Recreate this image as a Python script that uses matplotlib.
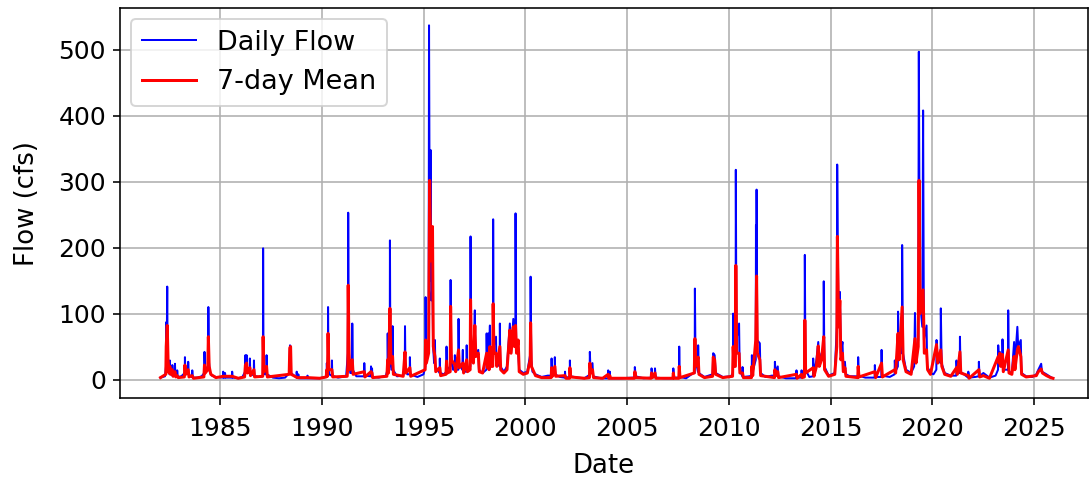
import matplotlib
matplotlib.use("Agg")
import matplotlib.pyplot as plt

# (decimal year, cfs) pairs
DAILY_FLOW = [
    (1982.08,3),(1982.30,5),(1982.35,20),(1982.36,87),(1982.38,30),(1982.41,141),(1982.43,25),(1982.47,12),(1982.53,8),(1982.54,29),(1982.56,10),(1982.65,6),(1982.66,22),(1982.68,8),(1982.78,6),(1982.79,24),(1982.81,6),(1982.89,4),(1982.90,14),(1982.92,4),
    (1983.10,5),(1983.27,10),(1983.28,34),(1983.30,12),(1983.43,8),(1983.44,27),(1983.46,8),(1983.63,4),(1983.64,14),(1983.66,3),(1983.90,3),
    (1984.10,5),(1984.23,10),(1984.24,42),(1984.26,15),(1984.42,20),(1984.43,110),(1984.45,30),(1984.50,12),(1984.60,6),(1984.80,4),
    (1985.15,3),(1985.16,12),(1985.18,3),(1985.24,3),(1985.25,10),(1985.27,3),(1985.59,3),(1985.60,12),(1985.62,3),(1985.90,2),
    (1986.10,4),(1986.24,12),(1986.25,37),(1986.27,15),(1986.30,12),(1986.31,37),(1986.33,12),(1986.46,10),(1986.47,32),(1986.49,10),(1986.66,6),(1986.67,29),(1986.69,6),(1986.90,4),
    (1987.11,5),(1987.12,199),(1987.14,20),(1987.20,8),(1987.28,8),(1987.29,37),(1987.31,8),(1987.60,3),(1987.90,2),
    (1988.20,3),(1988.41,10),(1988.42,25),(1988.44,52),(1988.47,50),(1988.49,10),(1988.76,3),(1988.77,12),(1988.79,3),(1988.84,3),(1988.85,8),(1988.87,2),
    (1989.29,2),(1989.30,6),(1989.32,2),(1989.90,2),
    (1990.20,4),(1990.24,6),(1990.25,25),(1990.27,8),(1990.30,10),(1990.31,110),(1990.33,25),(1990.36,8),(1990.49,6),(1990.50,29),(1990.52,6),(1990.80,3),
    (1991.20,5),(1991.28,40),(1991.30,253),(1991.32,120),(1991.35,30),(1991.40,10),(1991.49,10),(1991.50,85),(1991.52,15),(1991.70,5),
    (1992.08,5),(1992.09,25),(1992.11,6),(1992.41,5),(1992.42,20),(1992.44,5),(1992.46,5),(1992.47,17),(1992.49,4),(1992.80,3),
    (1993.15,6),(1993.23,15),(1993.24,70),(1993.26,20),(1993.34,20),(1993.35,211),(1993.37,40),(1993.42,15),(1993.47,15),(1993.48,81),(1993.50,15),(1993.70,5),
    (1994.00,6),(1994.08,15),(1994.09,81),(1994.11,20),(1994.20,8),(1994.32,8),(1994.33,34),(1994.35,8),(1994.70,4),
    (1995.00,8),(1995.09,20),(1995.10,125),(1995.12,40),(1995.25,60),(1995.27,537),(1995.31,150),(1995.35,348),(1995.38,120),(1995.44,146),(1995.47,50),(1995.52,25),(1995.56,60),(1995.58,20),(1995.79,10),(1995.80,32),(1995.82,10),
    (1996.00,8),(1996.12,12),(1996.13,50),(1996.15,15),(1996.32,20),(1996.33,151),(1996.35,40),(1996.45,15),(1996.53,15),(1996.54,37),(1996.56,15),(1996.71,15),(1996.72,92),(1996.74,25),(1996.90,15),(1996.93,45),(1996.95,12),
    (1997.11,12),(1997.12,52),(1997.14,15),(1997.30,20),(1997.31,217),(1997.33,60),(1997.45,30),(1997.52,105),(1997.55,40),(1997.69,45),(1997.72,15),(1997.90,10),
    (1998.09,15),(1998.10,70),(1998.12,25),(1998.18,70),(1998.20,20),(1998.26,82),(1998.28,30),(1998.41,30),(1998.42,243),(1998.44,50),(1998.56,65),(1998.58,25),(1998.74,20),(1998.75,85),(1998.77,20),(1998.95,12),
    (1999.10,20),(1999.24,85),(1999.30,40),(1999.41,92),(1999.45,60),(1999.51,50),(1999.52,252),(1999.55,50),(1999.65,40),(1999.70,15),(1999.90,10),
    (2000.10,12),(2000.25,40),(2000.26,156),(2000.29,30),(2000.35,12),(2000.50,8),(2000.80,4),
    (2001.10,6),(2001.28,6),(2001.29,32),(2001.31,8),(2001.44,8),(2001.45,34),(2001.47,8),(2001.70,4),(2001.94,3),(2001.95,12),(2001.97,3),
    (2002.18,4),(2002.19,29),(2002.21,5),(2002.60,3),(2002.90,2),
    (2003.10,6),(2003.16,8),(2003.17,42),(2003.20,15),(2003.30,25),(2003.33,5),(2003.70,2),
    (2004.06,2),(2004.07,14),(2004.09,2),(2004.14,2),(2004.15,12),(2004.17,2),(2004.70,2),
    (2005.30,3),(2005.37,4),(2005.38,19),(2005.42,5),(2005.80,2),
    (2006.19,3),(2006.20,17),(2006.25,5),(2006.36,5),(2006.37,17),(2006.40,3),(2006.80,2),
    (2007.26,2),(2007.27,17),(2007.30,3),(2007.55,3),(2007.56,50),(2007.58,4),(2007.90,2),
    (2008.25,10),(2008.32,10),(2008.33,138),(2008.36,30),(2008.48,12),(2008.49,52),(2008.52,10),(2008.80,4),
    (2009.20,8),(2009.23,40),(2009.30,37),(2009.35,10),(2009.70,4),
    (2010.10,5),(2010.20,10),(2010.21,100),(2010.24,30),(2010.33,40),(2010.34,318),(2010.37,60),(2010.50,85),(2010.53,15),(2010.66,5),(2010.67,19),(2010.70,4),
    (2011.00,5),(2011.12,6),(2011.13,37),(2011.15,10),(2011.32,30),(2011.33,234),(2011.35,60),(2011.36,288),(2011.39,60),(2011.52,55),(2011.55,10),(2011.80,4),
    (2012.10,6),(2012.25,6),(2012.26,27),(2012.30,10),(2012.40,20),(2012.43,5),(2012.80,2),
    (2013.31,2),(2013.32,14),(2013.34,3),(2013.56,3),(2013.57,14),(2013.60,4),(2013.72,8),(2013.73,189),(2013.76,15),(2013.95,4),
    (2014.13,5),(2014.14,32),(2014.17,8),(2014.30,30),(2014.39,57),(2014.43,25),(2014.55,40),(2014.65,30),(2014.66,149),(2014.69,20),(2014.90,6),
    (2015.20,10),(2015.30,80),(2015.32,326),(2015.38,90),(2015.45,133),(2015.50,40),(2015.58,57),(2015.62,15),(2015.70,27),(2015.74,8),(2015.95,5),
    (2016.34,5),(2016.35,34),(2016.38,6),(2016.70,3),
    (2017.16,3),(2017.17,22),(2017.20,4),(2017.49,4),(2017.50,45),(2017.52,6),(2017.90,4),
    (2018.14,8),(2018.15,29),(2018.18,12),(2018.30,20),(2018.31,103),(2018.34,40),(2018.50,40),(2018.51,204),(2018.55,40),(2018.70,15),(2018.95,10),
    (2019.10,20),(2019.14,101),(2019.18,30),(2019.30,60),(2019.33,497),(2019.38,120),(2019.50,80),(2019.54,408),(2019.58,60),(2019.71,82),(2019.74,20),(2019.90,10),
    (2020.05,8),(2020.19,15),(2020.20,60),(2020.25,30),(2020.40,25),(2020.41,108),(2020.45,25),(2020.60,10),(2020.90,6),
    (2021.17,6),(2021.18,29),(2021.21,10),(2021.34,10),(2021.35,65),(2021.38,12),(2021.75,3),(2021.76,12),(2021.80,3),
    (2022.10,4),(2022.27,5),(2022.28,27),(2022.31,5),(2022.50,10),(2022.80,3),
    (2023.10,6),(2023.22,15),(2023.23,52),(2023.26,30),(2023.31,42),(2023.34,25),(2023.43,20),(2023.44,61),(2023.47,15),(2023.71,15),(2023.72,105),(2023.75,12),(2023.90,10),
    (2024.01,57),(2024.04,20),(2024.17,80),(2024.21,50),(2024.34,60),(2024.37,10),(2024.60,5),(2024.90,4),
    (2025.10,8),(2025.20,15),(2025.34,24),(2025.38,12),(2025.60,8),(2025.80,4),(2025.92,2),
]

MEAN_7DAY = [
    (1982.08,3),(1982.34,8),(1982.36,50),(1982.41,82),(1982.45,30),(1982.50,10),(1982.54,20),(1982.58,8),(1982.66,15),(1982.70,5),(1982.79,12),(1982.83,4),(1982.90,6),(1982.95,3),
    (1983.25,4),(1983.28,22),(1983.32,8),(1983.44,15),(1983.48,4),(1983.64,6),(1983.70,2),
    (1984.21,4),(1984.24,22),(1984.28,10),(1984.40,15),(1984.43,65),(1984.47,20),(1984.55,8),(1984.80,3),
    (1985.16,5),(1985.25,5),(1985.60,5),(1985.90,2),
    (1986.21,4),(1986.25,22),(1986.31,25),(1986.35,10),(1986.47,18),(1986.50,6),(1986.67,15),(1986.70,4),
    (1987.10,5),(1987.12,65),(1987.16,12),(1987.29,20),(1987.33,4),
    (1988.40,8),(1988.43,48),(1988.47,50),(1988.50,8),(1988.80,3),
    (1989.30,3),(1989.90,2),
    (1990.22,4),(1990.25,15),(1990.28,5),(1990.31,70),(1990.35,15),(1990.50,15),(1990.54,4),
    (1991.25,5),(1991.28,20),(1991.30,143),(1991.34,40),(1991.38,15),(1991.50,30),(1991.54,8),
    (1992.09,12),(1992.12,4),(1992.42,12),(1992.47,10),(1992.50,3),
    (1993.20,5),(1993.24,30),(1993.28,10),(1993.35,108),(1993.40,25),(1993.48,35),(1993.52,8),
    (1994.00,5),(1994.09,42),(1994.13,10),(1994.33,18),(1994.37,5),
    (1995.08,15),(1995.10,60),(1995.14,25),(1995.25,40),(1995.30,302),(1995.36,180),(1995.44,232),(1995.48,50),(1995.56,35),(1995.60,12),(1995.80,18),(1995.84,6),
    (1996.10,8),(1996.13,28),(1996.17,10),(1996.31,12),(1996.33,111),(1996.37,30),(1996.54,22),(1996.58,12),(1996.72,45),(1996.76,18),(1996.93,25),(1996.97,10),
    (1997.12,30),(1997.16,12),(1997.29,15),(1997.31,121),(1997.35,45),(1997.45,25),(1997.52,82),(1997.57,35),(1997.69,40),(1997.74,12),(1997.90,10),
    (1998.10,40),(1998.14,18),(1998.18,40),(1998.22,15),(1998.26,50),(1998.30,20),(1998.40,20),(1998.42,115),(1998.46,40),(1998.56,40),(1998.60,20),(1998.75,50),(1998.79,15),(1998.95,10),
    (1999.10,15),(1999.24,75),(1999.30,40),(1999.41,80),(1999.47,50),(1999.52,82),(1999.57,40),(1999.65,60),(1999.70,12),(1999.90,8),
    (2000.10,10),(2000.24,30),(2000.26,86),(2000.30,20),(2000.50,6),(2000.80,3),
    (2001.27,3),(2001.29,18),(2001.33,5),(2001.45,20),(2001.49,5),(2001.95,6),(2002.00,2),
    (2002.17,2),(2002.19,18),(2002.23,4),(2002.90,2),
    (2003.15,3),(2003.17,25),(2003.22,10),(2003.30,15),(2003.35,3),(2003.80,2),
    (2004.07,8),(2004.10,2),(2004.15,6),(2004.18,2),
    (2005.36,2),(2005.38,12),(2005.43,3),
    (2006.18,2),(2006.20,10),(2006.25,3),(2006.37,10),(2006.41,2),
    (2007.25,2),(2007.27,10),(2007.31,2),(2007.54,2),(2007.56,20),(2007.60,3),
    (2008.30,10),(2008.33,62),(2008.37,20),(2008.49,34),(2008.53,8),(2008.80,3),
    (2009.20,5),(2009.23,34),(2009.30,30),(2009.35,8),(2009.70,3),
    (2010.18,5),(2010.21,50),(2010.25,20),(2010.32,20),(2010.34,173),(2010.38,40),(2010.50,40),(2010.54,10),(2010.67,10),(2010.71,3),
    (2011.11,3),(2011.13,20),(2011.17,6),(2011.32,60),(2011.36,157),(2011.40,40),(2011.52,30),(2011.56,6),
    (2012.24,3),(2012.26,15),(2012.30,6),(2012.40,12),(2012.44,3),
    (2013.32,8),(2013.35,2),(2013.57,8),(2013.60,3),(2013.71,4),(2013.73,90),(2013.77,10),
    (2014.14,18),(2014.18,5),(2014.30,20),(2014.39,51),(2014.44,20),(2014.55,30),(2014.66,65),(2014.70,15),(2014.90,5),
    (2015.20,8),(2015.30,50),(2015.33,217),(2015.39,80),(2015.45,120),(2015.50,30),(2015.58,40),(2015.62,12),(2015.70,18),(2015.75,5),
    (2016.33,3),(2016.35,20),(2016.39,4),
    (2017.17,12),(2017.21,3),(2017.50,25),(2017.54,4),
    (2018.15,15),(2018.19,10),(2018.31,70),(2018.36,30),(2018.51,110),(2018.56,30),(2018.70,12),(2018.95,8),
    (2019.14,62),(2019.19,25),(2019.30,50),(2019.34,302),(2019.40,100),(2019.54,136),(2019.60,40),(2019.71,45),(2019.76,15),(2019.90,8),
    (2020.20,53),(2020.26,25),(2020.41,45),(2020.46,20),(2020.60,8),(2020.90,5),
    (2021.18,18),(2021.22,8),(2021.35,42),(2021.39,10),(2021.76,6),(2021.80,2),
    (2022.28,15),(2022.32,4),(2022.50,6),(2022.80,2),
    (2023.23,35),(2023.27,25),(2023.31,40),(2023.35,20),(2023.44,38),(2023.48,12),(2023.72,45),(2023.76,10),(2023.90,8),
    (2024.01,35),(2024.05,15),(2024.17,45),(2024.22,50),(2024.34,35),(2024.38,8),(2024.60,4),
    (2025.10,6),(2025.20,12),(2025.34,16),(2025.40,10),(2025.60,6),(2025.80,3),(2025.92,2),
]

X_TICKS = [1985, 1990, 1995, 2000, 2005, 2010, 2015, 2020, 2025]
Y_TICKS = [0, 100, 200, 300, 400, 500]

plt.rcParams['font.family'] = ['DejaVu Sans']
plt.rcParams['font.size'] = 13

fig = plt.figure(figsize=(1090/144, 483/144), dpi=144)
ax = fig.add_axes([120/1090, 1 - 398/483, 968/1090, 390/483])

dx = [p[0] for p in DAILY_FLOW]
dy = [p[1] for p in DAILY_FLOW]
mx = [p[0] for p in MEAN_7DAY]
my = [p[1] for p in MEAN_7DAY]

ax.plot(dx, dy, color='blue', lw=1, label='Daily Flow')
ax.plot(mx, my, color='red', lw=1.5, label='7-day Mean')

ax.set_xlim(1980.09, 2027.64)
ax.set_ylim(-27.9, 563.3)
ax.set_xticks(X_TICKS)
ax.set_xticklabels([str(t) for t in X_TICKS])
ax.set_yticks(Y_TICKS)
ax.tick_params(axis='both', labelsize=12.5)
ax.tick_params(axis='x', pad=6)
ax.set_xlabel('Date', labelpad=6)
ax.set_ylabel('Flow (cfs)', labelpad=9)
ax.grid(True)
ax.legend(loc='upper left', fontsize=13.5, borderaxespad=0.4)

fig.savefig('out.png', dpi=144)
